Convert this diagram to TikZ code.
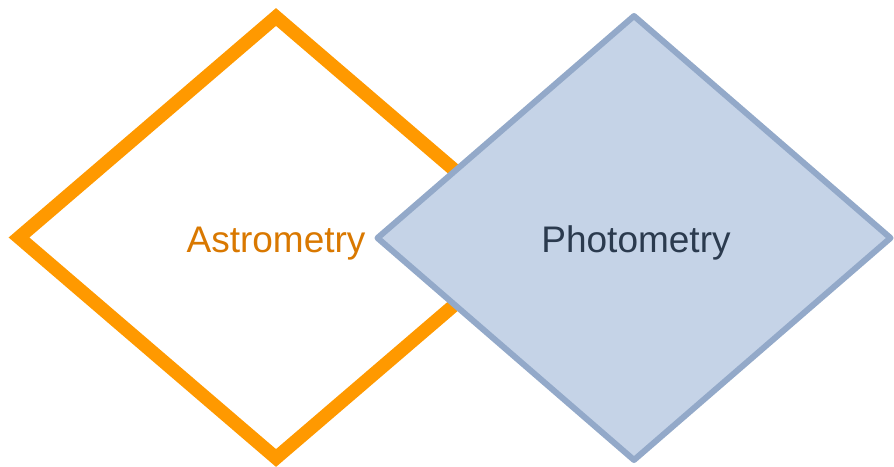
\documentclass[tikz,border=0pt]{standalone}
\usepackage{fontspec}
\setmainfont{Liberation Sans}
\usetikzlibrary{shapes.geometric}
\definecolor{orangeline}{HTML}{FF9900}
\definecolor{orangetext}{HTML}{D97800}
\definecolor{bluefill}{HTML}{C5D3E7}
\definecolor{blueline}{HTML}{93A9C9}
\definecolor{navytext}{HTML}{2B3A4E}
\tikzset{
  dia/.style={diamond, inner sep=0pt, outer sep=0pt},
  lbl/.style={anchor=base, inner sep=0pt, font=\fontsize{37}{40}\selectfont}
}
\begin{document}
\begin{tikzpicture}[x=1pt,y=1pt]
\useasboundingbox (0,0) rectangle (894,466);
\node[dia, draw=orangeline, line width=13.5pt, miter limit=10,
      minimum width=514pt, minimum height=441pt] (astro) at (276,228.5) {};
\node[dia, draw=blueline, fill=bluefill, line width=6pt, line join=round,
      minimum width=513pt, minimum height=444pt] (photo) at (634,228) {};
\node[lbl, text=orangetext] (astrotxt) at (276,213) {Astrometry};
\node[lbl, text=navytext] (phototxt) at (636,213) {Photometry};
\end{tikzpicture}
\end{document}
